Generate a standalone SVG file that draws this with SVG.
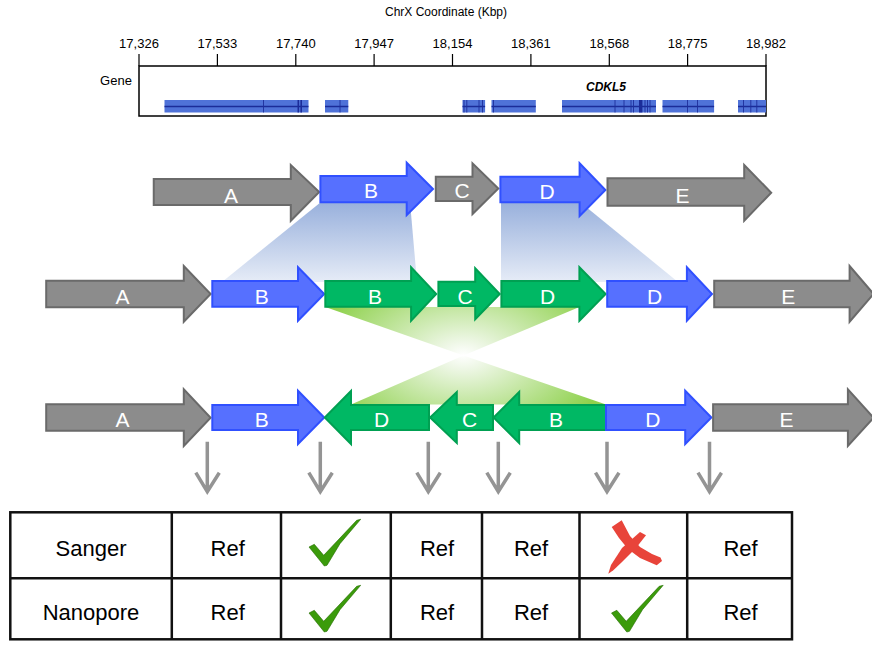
<svg xmlns="http://www.w3.org/2000/svg" width="872" height="662" viewBox="0 0 872 662">
<style>
.ax{font-family:"Liberation Sans",Arial,sans-serif;fill:#000;text-anchor:middle}
.tk{stroke:#000;stroke-width:1.2}
.blk{fill:#4f72d8}
.bar{stroke:#1e2f9c;stroke-width:0.9}
.gray{fill:#8c8c8c;stroke:#6a6a6a;stroke-width:2}
.blue{fill:#5670ff;stroke:#3050ff;stroke-width:2}
.green{fill:#00b864;stroke:#00a052;stroke-width:2}
.lbl{font-family:"Liberation Sans",Arial,sans-serif;font-size:21px;fill:#fff;text-anchor:middle}
.down{stroke:#949494;stroke-width:3.5;fill:none}
.grid{stroke:#111;stroke-width:2.5;fill:none}
.cell{font-family:"Liberation Sans",Arial,sans-serif;font-size:22px;fill:#000;text-anchor:middle}
.chk{fill:#3b9b0b;stroke:#236b00;stroke-width:0.6}
.xm{fill:#e8443a}
</style>
<defs>
<linearGradient id="bg" x1="0" y1="0" x2="0" y2="1">
<stop offset="0" stop-color="#98b0dc"/>
<stop offset="1" stop-color="#e6ecf7"/>
</linearGradient>
<radialGradient id="gg" gradientUnits="userSpaceOnUse" cx="0" cy="0" r="1" gradientTransform="translate(463.5 355) scale(150 90)">
<stop offset="0" stop-color="#ffffff"/>
<stop offset="0.15" stop-color="#eef7e6"/>
<stop offset="1" stop-color="#8ed14c"/>
</radialGradient>
<path id="check" d="M309,547 L314.3,544.3 L323.7,555.3 L356.7,520.3 L360.7,519.3 L340,543.7 L327,565.3 L324.3,566 Z"/>
</defs>

<g id="axis">
<text class="ax" x="446" y="16" font-size="12">ChrX Coordinate (Kbp)</text>
<g font-size="13">
<text class="ax" x="139" y="48">17,326</text>
<text class="ax" x="217.4" y="48">17,533</text>
<text class="ax" x="295.8" y="48">17,740</text>
<text class="ax" x="374.1" y="48">17,947</text>
<text class="ax" x="452.5" y="48">18,154</text>
<text class="ax" x="530.9" y="48">18,361</text>
<text class="ax" x="609.3" y="48">18,568</text>
<text class="ax" x="687.6" y="48">18,775</text>
<text class="ax" x="766" y="48">18,982</text>
</g>
<path class="tk" d="M139,54V66M217.4,54V66M295.8,54V66M374.1,54V66M452.5,54V66M530.9,54V66M609.3,54V66M687.6,54V66M766,54V66"/>
<rect x="139" y="66" width="627" height="50" fill="none" stroke="#000" stroke-width="1.5"/>
<text class="ax" x="116" y="85" font-size="13">Gene</text>
<text class="ax" x="606" y="91" font-size="12" font-weight="bold" font-style="italic">CDKL5</text>
</g>

<g id="gene">
<rect class="blk" x="164.5" y="100" width="144" height="12.5"/>
<rect class="blk" x="325" y="100" width="23.3" height="12.5"/>
<rect class="blk" x="462.5" y="100" width="22.6" height="12.5"/>
<rect class="blk" x="491.5" y="100" width="44.3" height="12.5"/>
<rect class="blk" x="562" y="100" width="94" height="12.5"/>
<rect class="blk" x="662.5" y="100" width="51.6" height="12.5"/>
<rect class="blk" x="738" y="100" width="28" height="12.5"/>
<path stroke="#1b2c99" stroke-width="1.6" d="M164.5,106.5H308.5M325,106.5H348.3M462.5,106.5H485.1M491.5,106.5H535.8M562,106.5H656M662.5,106.5H714.1M738,106.5H766"/>
<path class="bar" d="M263.5,100V112.5M464,100V112.5M466.8,100V112.5M479,100V112.5M482.5,100V112.5M493.5,100V112.5M340,100V112.5M615,100V112.5M624,100V112.5M631,100V112.5M633.5,100V112.5M645,100V112.5M647.5,100V112.5M650,100V112.5M687.5,100V112.5M697.5,100V112.5M743.5,100V112.5M750.8,100V112.5M756.8,100V112.5"/>
<path stroke="#1b2c99" stroke-width="1.6" d="M298.3,100V112.5M301.2,100V112.5"/>
<rect x="639" y="100" width="3.4" height="12.5" fill="#1b2c99"/>
</g>

<g id="mappings">
<polygon fill="url(#bg)" points="321,202 410,202 417,282 222,282"/>
<polygon fill="url(#bg)" points="501,202 580,202 678,282 501,282"/>
<polygon fill="url(#gg)" points="325.3,307 579.4,307 463.5,355.5"/>
<polygon fill="url(#gg)" points="463.5,355.5 351,404.5 606,404.5"/>
</g>

<g id="row1">
<g id="r1-A"><polygon class="gray" points="153.75,179 290.8,179 290.8,165 319.2,192 290.8,220.7 290.8,205 153.75,205"/><text class="lbl" x="231" y="202.5">A</text></g>
<g id="r1-B"><polygon class="blue" points="320.4,176 406.7,176 406.7,162.7 433,189 406.7,215 406.7,202.3 320.4,202.3"/><text class="lbl" x="371" y="198">B</text></g>
<g id="r1-C"><polygon class="gray" points="435.8,176.7 472.5,176.7 472.5,163.3 498.3,188.5 472.5,214 472.5,201 435.8,201"/><text class="lbl" x="462" y="198">C</text></g>
<g id="r1-D"><polygon class="blue" points="500.4,176.7 579.6,176.7 579.6,163.3 605.4,190 579.6,216 579.6,202.3 500.4,202.3"/><text class="lbl" x="547" y="198.5">D</text></g>
<g id="r1-E"><polygon class="gray" points="607.5,178.3 744.2,178.3 744.2,165 771.2,192.7 744.2,220.7 744.2,205.7 607.5,205.7"/><text class="lbl" x="682.5" y="202.5">E</text></g>
</g>

<g id="row2">
<g id="r2-A"><polygon class="gray" points="46.2,280.7 183.8,280.7 183.8,266 210.6,294 183.8,321.7 183.8,307.3 46.2,307.3"/><text class="lbl" x="122.6" y="303.5">A</text></g>
<g id="r2-B1"><polygon class="blue" points="212.3,281 298,281 298,267.3 324.2,294 298,320.7 298,306.7 212.3,306.7"/><text class="lbl" x="261.8" y="303.5">B</text></g>
<g id="r2-B2"><polygon class="green" points="325.3,281 411.1,281 411.1,267.3 436.2,294 411.1,320.7 411.1,306.7 325.3,306.7"/><text class="lbl" x="374.9" y="303.5">B</text></g>
<g id="r2-C"><polygon class="green" points="438.4,281.7 475.2,281.7 475.2,268.3 499.7,294 475.2,319.3 475.2,306 438.4,306"/><text class="lbl" x="465.2" y="303.5">C</text></g>
<g id="r2-D1"><polygon class="green" points="501.4,281 579.4,281 579.4,267.3 605.6,294 579.4,320.7 579.4,306.7 501.4,306.7"/><text class="lbl" x="547.6" y="303.5">D</text></g>
<g id="r2-D2"><polygon class="blue" points="607.2,281 686.9,281 686.9,267.3 712,294 686.9,320.7 686.9,306.7 607.2,306.7"/><text class="lbl" x="654.6" y="303.5">D</text></g>
<g id="r2-E"><polygon class="gray" points="714.2,280.7 849.6,280.7 849.6,266 873.6,294 849.6,321.7 849.6,307.3 714.2,307.3"/><text class="lbl" x="788.3" y="303.5">E</text></g>
</g>

<g id="row3">
<g id="r3-A"><polygon class="gray" points="46.2,404.3 183.8,404.3 183.8,389.3 210.6,417.7 183.8,446 183.8,430.7 46.2,430.7"/><text class="lbl" x="122.6" y="427">A</text></g>
<g id="r3-B1"><polygon class="blue" points="212.3,405 298,405 298,390.7 324.2,417.5 298,444 298,430 212.3,430"/><text class="lbl" x="261.8" y="427">B</text></g>
<g id="r3-D1"><polygon class="green" points="429,405 351,405 351,391 324.8,417.5 351,444 351,430 429,430"/><text class="lbl" x="381.6" y="427">D</text></g>
<g id="r3-C"><polygon class="green" points="493,405 456.8,405 456.8,392 430.1,417.5 456.8,443 456.8,430 493,430"/><text class="lbl" x="469.6" y="427">C</text></g>
<g id="r3-B2"><polygon class="green" points="606,405 519.2,405 519.2,392 493.6,417.5 519.2,443 519.2,430 606,430"/><text class="lbl" x="556" y="427">B</text></g>
<g id="r3-D2"><polygon class="blue" points="606,405 685.2,405 685.2,390.7 711.4,417.5 685.2,444 685.2,430 606,430"/><text class="lbl" x="652.9" y="427">D</text></g>
<g id="r3-E"><polygon class="gray" points="713.1,404.3 847.9,404.3 847.9,389.3 873.6,417.7 847.9,446 847.9,430.7 713.1,430.7"/><text class="lbl" x="786.6" y="427">E</text></g>
</g>

<g id="connectors">
<path class="down" d="M207.3,441.7V491M195.8,472.7L207.3,491.7L219.3,472.7"/>
<path class="down" d="M320.3,441.7V491M308.8,472.7L320.3,491.7L332.3,472.7"/>
<path class="down" d="M428.3,441.7V491M416.8,472.7L428.3,491.7L440.3,472.7"/>
<path class="down" d="M498.3,441.7V491M486.8,472.7L498.3,491.7L510.3,472.7"/>
<path class="down" d="M607,441.7V491M595.5,472.7L607,491.7L619,472.7"/>
<path class="down" d="M709.5,441.7V491M698,472.7L709.5,491.7L721.5,472.7"/>
</g>

<g id="table">
<rect class="grid" x="10.3" y="512.3" width="781.7" height="127"/>
<path class="grid" d="M10.3,578.3H792M171.8,512.3V639.3M281,512.3V639.3M390.8,512.3V639.3M482,512.3V639.3M579.5,512.3V639.3M687.2,512.3V639.3"/>
<text class="cell" x="91" y="555.5">Sanger</text>
<text class="cell" x="91" y="620">Nanopore</text>
<text class="cell" x="227.7" y="555.5">Ref</text>
<text class="cell" x="437" y="555.5">Ref</text>
<text class="cell" x="531" y="555.5">Ref</text>
<text class="cell" x="740.6" y="555.5">Ref</text>
<text class="cell" x="227.7" y="620">Ref</text>
<text class="cell" x="437" y="620">Ref</text>
<text class="cell" x="531" y="620">Ref</text>
<text class="cell" x="740.6" y="620">Ref</text>
<use href="#check" class="chk"/>
<use href="#check" class="chk" transform="translate(0 66)"/>
<use href="#check" class="chk" transform="translate(302.5 66)"/>
<path class="xm" d="M611.7,527 L621.7,520.3 L630,536 L640,547 L652,554 L660.5,557.5 L662,561 L656.7,565.3 L640,558 L628,549 L619,538 Z"/>
<path class="xm" d="M640,532 L646,535.3 L636,548 L622,562 L613.3,570.3 L608.3,573.7 L611,565 L622,548 Z"/>
</g>
</svg>
